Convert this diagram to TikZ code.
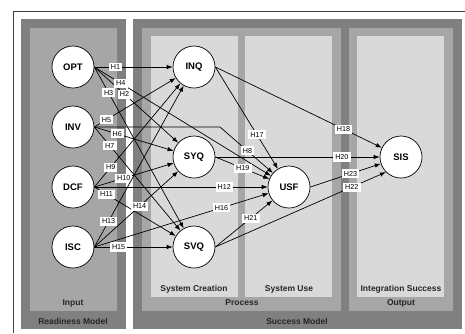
\documentclass[tikz,border=0pt]{standalone}
\usepackage{fontspec}
\setmainfont{Liberation Sans}
\usepackage{tikz}
\usetikzlibrary{arrows.meta}
\definecolor{modelgray}{HTML}{808080}
\definecolor{phasegray}{HTML}{A6A6A6}
\definecolor{stagegray}{HTML}{D9D9D9}
\pgfdeclarelayer{panels}
\pgfdeclarelayer{background}
\pgfsetlayers{panels,background,main}

\begin{document}
\begin{tikzpicture}[x=1pt, y=-1pt,
				roundnode/.style={circle, draw=black, line width=0.7pt, fill=white, minimum size=42pt, inner sep=0pt, font=\fontsize{9.5}{11}\selectfont\bfseries},
				hyp/.style={line width=0.7pt, -{Latex[length=6pt,width=4.5pt]}},
				hlabel/.style={fill=white, inner xsep=2.2pt, inner ysep=2pt, font=\fontsize{7.2}{8}\selectfont},
				paneltext/.style={text=black!85, font=\fontsize{8.5}{10}\selectfont\bfseries},
				]
				\useasboundingbox (0,0) rectangle (465,333);
				%Nodes
				\node[roundnode]      (opt) 	at 	(73,67)         {OPT};
				\node[roundnode]      (inv) 	at 	(73,127)        {INV};
				\node[roundnode]      (dcf) 	at 	(73,187)        {DCF};
				\node[roundnode]      (isc) 	at 	(73,247)        {ISC};
				\node[roundnode]      (inq) 	at 	(194,67)        {INQ};
				\node[roundnode]      (syq) 	at 	(194,157)       {SYQ};
				\node[roundnode]      (svq) 	at 	(194,247)       {SVQ};
				\node[roundnode]      (usf) 	at 	(289,187)       {USF};
				\node[roundnode]      (sis) 	at 	(401,157)       {SIS};
				\coordinate           (bend8)   at  (220,127);

				%Panel texts
				\node[paneltext]      (input)     at (73,303)   {Input};
				\node[paneltext]      (readiness) at (73,321)   {Readiness Model};
				\node[paneltext]      (creation)  at (194,289)  {System Creation};
				\node[paneltext]      (use)       at (289,289)  {System Use};
				\node[paneltext]      (integr)    at (401,289)  {Integration Success};
				\node[paneltext]      (process)   at (242,303)  {Process};
				\node[paneltext]      (output)    at (401,303)  {Output};
				\node[paneltext]      (success)   at (297,321)  {Success Model};

				\begin{pgfonlayer}{panels}
				%Frame and panels
				\draw[black!75, line width=0.8pt] (13,333) -- (13,11) -- (465,11);
				\fill[modelgray] (21,19) rectangle (126,329);
				\fill[phasegray] (30,28) rectangle (117,311);
				\fill[modelgray] (133,19) rectangle (462,329);
				\fill[phasegray] (142,28) rectangle (341,311);
				\fill[stagegray] (151,36) rectangle (238,297);
				\fill[stagegray] (245,36) rectangle (332,297);
				\fill[phasegray] (349,28) rectangle (453,311);
				\fill[stagegray] (357,36) rectangle (444,297);
				\end{pgfonlayer}

				\begin{pgfonlayer}{background}
				%Lines
				\draw[hyp] (opt.east) -- node[hlabel, pos=0.27] (h1) {H1} (inq);
				\draw[hyp] (opt.east) -- node[hlabel, pos=0.36] (h2) {H2} (syq);
				\draw[hyp] (opt.east) -- node[hlabel, pos=0.16] (h3) {H3} (svq);
				\draw[hyp] (opt.east) -- node[hlabel, pos=0.15] (h4) {H4} (usf);

				\draw[hyp] (inv.east) -- node[hlabel, pos=0.15] (h5) {H5} (inq);
				\draw[hyp] (inv.east) -- node[hlabel, pos=0.29] (h6) {H6} (syq);
				\draw[hyp] (inv.east) -- node[hlabel, pos=0.18] (h7) {H7} (svq);
				\draw[hyp] (inv.east) -- (bend8) -- node[hlabel, pos=0.52] (h8) {H8} (usf);

				\draw[hyp] (dcf.east) -- node[hlabel, pos=0.19] (h9) {H9} (inq);
				\draw[hyp] (dcf.east) -- node[hlabel, pos=0.37] (h10) {H10} (syq);
				\draw[hyp] (dcf.east) -- node[hlabel, pos=0.15] (h11) {H11} (svq);
				\draw[hyp] (dcf.east) -- node[hlabel, pos=0.75] (h12) {H12} (usf);

				\draw[hyp] (isc.east) -- node[hlabel, pos=0.16] (h13) {H13} (inq);
				\draw[hyp] (isc.east) -- node[hlabel, pos=0.54] (h14) {H14} (syq);
				\draw[hyp] (isc.east) -- node[hlabel, pos=0.31] (h15) {H15} (svq);
				\draw[hyp] (isc.east) -- node[hlabel, pos=0.73] (h16) {H16} (usf);

				\draw[hyp] (inq.east) -- node[hlabel, pos=0.665] (h17) {H17} (usf);
				\draw[hyp] (inq.east) -- node[hlabel, pos=0.77] (h18) {H18} (sis);
				\draw[hyp] (syq.east) -- node[hlabel, pos=0.51] (h19) {H19} (usf);
				\draw[hyp] (syq.east) -- node[hlabel, pos=0.77] (h20) {H20} (sis);
				\draw[hyp] (svq.east) -- node[hlabel, pos=0.62] (h21) {H21} (usf);
				\draw[hyp] (svq.east) -- node[hlabel, pos=0.80] (h22) {H22} (sis.225);
				\draw[hyp] (usf.east) -- node[hlabel, pos=0.57] (h23) {H23} (sis);
				\end{pgfonlayer}
			\end{tikzpicture}
\end{document}
